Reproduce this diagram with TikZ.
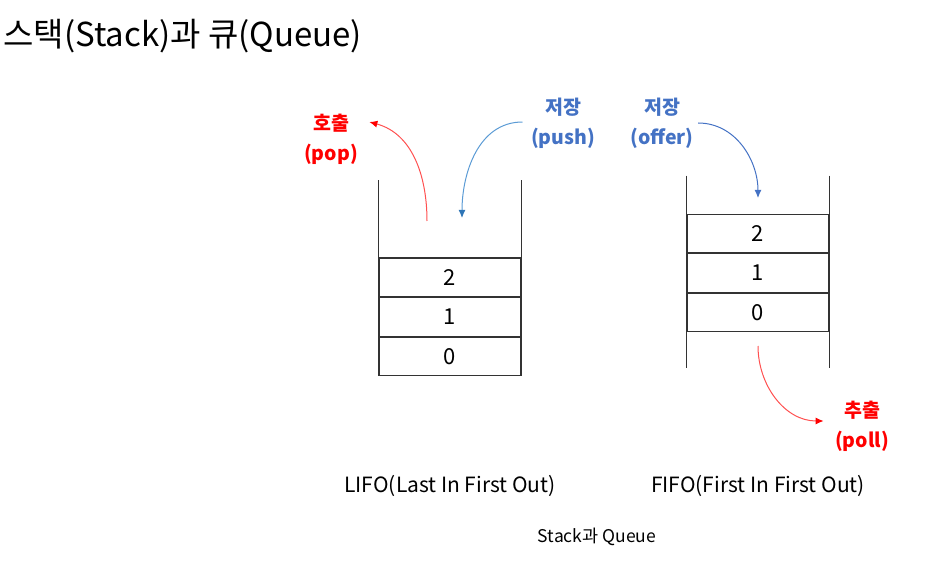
\documentclass[tikz,border=0pt]{standalone}
\usepackage{fontspec}
\setmainfont{Noto Sans CJK KR}
\usetikzlibrary{arrows.meta,positioning,calc}

\definecolor{getred}{RGB}{255,0,0}
\definecolor{getline}{RGB}{255,80,80}
\definecolor{putblue}{RGB}{68,114,196}
\definecolor{pushline}{RGB}{91,155,213}
\definecolor{pushhead}{RGB}{46,117,182}

\begin{document}
\begin{tikzpicture}[x=1pt, y=1pt,
          wall/.style={black!80, line width=1.2pt},
          cell/.style={draw=black!80, line width=1.1pt, minimum width=142pt,
            minimum height=38.5pt, inner sep=0pt, font=\fontsize{22}{26}\selectfont},
          getlbl/.style={getred, align=center, font=\bfseries\fontsize{19.5}{30}\selectfont},
          putlbl/.style={putblue, align=center, font=\bfseries\fontsize{19.5}{30}\selectfont},
          getarr/.style={getline, line width=1pt, -{Latex[length=8pt,width=7pt,color=getred]}},
          pusharr/.style={pushline, line width=1pt, -{Latex[length=8pt,width=7pt,color=pushhead]}},
          offerarr/.style={putblue, line width=1pt, -{Latex[length=8pt,width=7pt]}},
          caption/.style={font=\fontsize{21}{24}\selectfont}
        ]
          \useasboundingbox (0,0) rectangle (940,563);

          % Titel
          \node[anchor=west, font=\fontsize{33}{38}\selectfont] (title) at (0,527) {스택(Stack)과 큐(Queue)};

          % Stack
          \node[cell] (s0) at (450,206.5) {0};
          \node[cell, above=0pt of s0] (s1) {1};
          \node[cell, above=0pt of s1] (s2) {2};
          \draw[wall] (s2.north west) -- ++(0,77);
          \draw[wall] (s2.north east) -- ++(0,77);

          % Queue
          \node[cell] (q2) at (758,329.5) {2};
          \node[cell, below=0pt of q2] (q1) {1};
          \node[cell, below=0pt of q1] (q0) {0};
          \draw[wall] (q2.north west) ++(0,38) -- ++(0,-192);
          \draw[wall] (q2.north east) ++(0,38) -- ++(0,-192);

          % Beschriftungen
          \node[getlbl] (poplbl) at (331,424) {호출\\(pop)};
          \node[putlbl] (pushlbl) at (563,440) {저장\\(push)};
          \node[putlbl] (offerlbl) at (662,440) {저장\\(offer)};
          \node[getlbl] (polllbl) at (862,137) {추출\\(poll)};

          % Pfeile
          \coordinate (popstart) at (427,342);
          \coordinate (pushend) at (462,345);
          \coordinate (offerend) at (758,365);
          \coordinate (pollstart) at (758,217);
          \draw[getarr] (popstart) to[out=90, in=-15] ([shift={(8,17)}]poplbl.east);
          \draw[pusharr] ([shift={(-5,1)}]pushlbl.west) to[out=180, in=90] (pushend);
          \draw[offerarr] ([shift={(1,0)}]offerlbl.east) to[out=0, in=90] (offerend);
          \draw[getarr] (pollstart) to[out=-90, in=180] ([shift={(-8,5)}]polllbl.west);

          % Unterschriften
          \node[caption] (lifo) at (450,77) {LIFO(Last In First Out)};
          \node[caption] (fifo) at (758,77) {FIFO(First In First Out)};
          \node[font=\fontsize{17.5}{21}\selectfont] (figcap) at (597,26) {Stack과 Queue};
        \end{tikzpicture}
\end{document}
